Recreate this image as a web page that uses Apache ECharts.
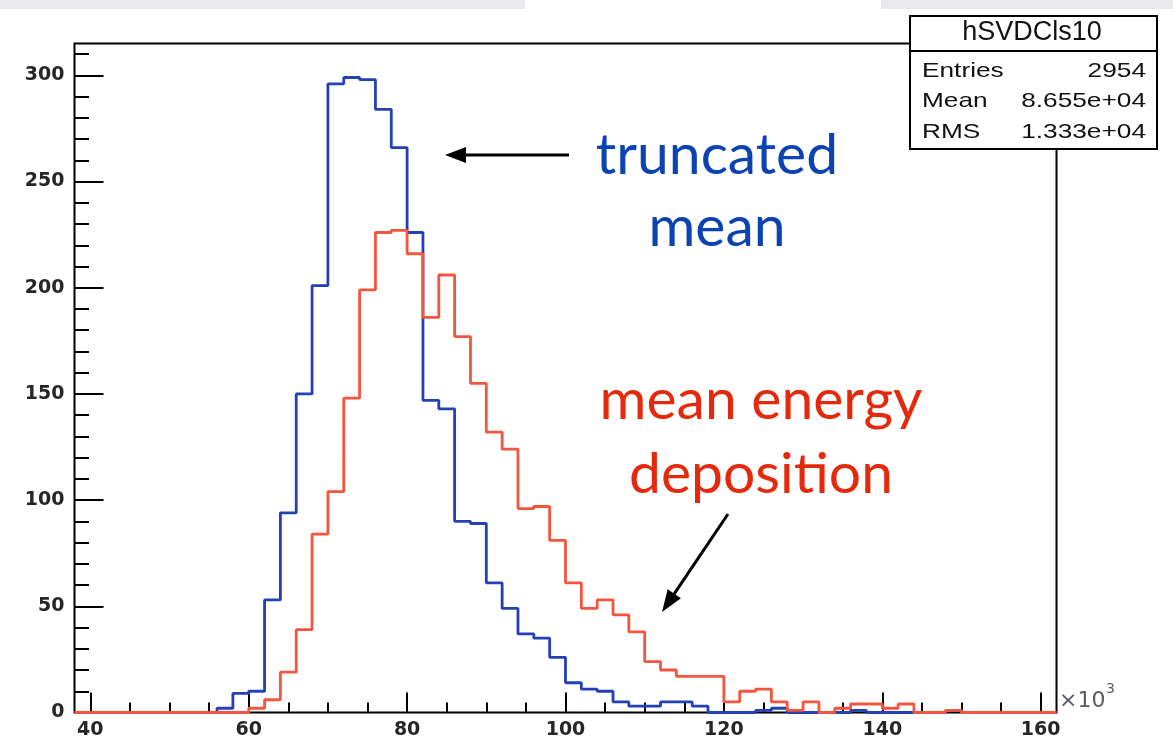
<!DOCTYPE html>
<html><head><meta charset="utf-8">
<script src="https://cdn.jsdelivr.net/npm/echarts@6/dist/echarts.min.js"></script>
<style>html,body{margin:0;padding:0;background:#fff}#c{width:1173px;height:740px}</style>
</head><body><div id="c"></div>
<script>
// ---- data (x in units of 10^3, bins of width 2 starting at 38) ----
const binLow = 38;
const binWidth = 2;
const truncatedMean = [
  0,0,0,0,0,0,0,0,0,           // 38..54
  2,9,10,53,94,150,201,296,299,298,284,266,226,147,143,90,89,61,49,37,35,26,14,11,10,5,3,3,5,5,3, // 56..116
  0,0,0,1,2,0,0,0,0,1,0,0,0,0,0,1,0,0,0,0,0,0 // 118..160
];
const meanEnergyDeposition = [
  0,0,0,0,0,0,0,0,0,0,0,         // 38..58
  2,6,19,39,84,104,148,199,226,227,216,186,206,177,155,132,124,96,97,81,61,49,53,46,38,24,20,17,17,17, // 60..118
  5,10,11,5,1,5,0,2,4,4,2,4,0,0,1,0,0,0,0,0,0 // 120..160
];
const xTickLabels = [40,60,80,100,120,140,160];
const yTickLabels = [0,50,100,150,200,250,300];
const statsTitle = 'hSVDCls10';
const statsNames = ['Entries','Mean','RMS'];
const statsValues = ['2954','8.655e+04','1.333e+04'];

// ---- layout ----
const W = 1173, H = 740;
const G = {left: 74.5, right: 116.5, top: 43.5, bottom: 27.5};
const X0 = 38, X1 = 162, YMAX = 315;
const ux = (W - G.left - G.right) / (X1 - X0);
const uy = (H - G.top - G.bottom) / YMAX;

function steps(vals) {
  const d = vals.map((v, i) => [binLow + i * binWidth, v]);
  d.push([binLow + vals.length * binWidth, vals[vals.length - 1]]);
  return d;
}

const hidden = (gi) => ({gridIndex: gi, type: 'value', show: false, min: 0, max: 1});
const labelFont = {fontFamily: 'DejaVu Sans', fontWeight: 'bold', fontSize: 19, color: '#262626'};

const chart = echarts.init(document.getElementById('c'), null, {renderer: 'canvas'});

function arrow(x1, y1, x2, y2, len, half) {
  const dx = x2 - x1, dy = y2 - y1, L = Math.hypot(dx, dy);
  const ux_ = dx / L, uy_ = dy / L;
  const bx = x2 - ux_ * len, by = y2 - uy_ * len;
  const px = -uy_ * half, py = ux_ * half;
  return [
    {type: 'line', z: 50, shape: {x1: x1, y1: y1, x2: bx + ux_ * 2, y2: by + uy_ * 2}, style: {stroke: '#000', lineWidth: 3}},
    {type: 'polygon', z: 50, shape: {points: [[x2, y2], [bx + px, by + py], [bx - px, by - py]]}, style: {fill: '#000'}}
  ];
}

const annFont = 'Lato';
const gfx = [
  {type: 'rect', z: 1, shape: {x: 0, y: 0, width: 525, height: 9}, style: {fill: '#e8e8ed'}},
  {type: 'rect', z: 1, shape: {x: 881, y: 0, width: 292, height: 9}, style: {fill: '#e8e8ed'}},
  // stats box
  {type: 'rect', z: 100, shape: {x: 910, y: 16, width: 247, height: 133}, style: {fill: '#fff', stroke: '#000', lineWidth: 2}},
  {type: 'line', z: 101, shape: {x1: 910, y1: 51, x2: 1157, y2: 51}, style: {stroke: '#000', lineWidth: 2}},
  {type: 'text', z: 102, x: 1032, y: 33, style: {text: statsTitle, font: '27px "Liberation Sans"', fill: '#111', align: 'center', verticalAlign: 'middle'}},
  // x10^3
  {type: 'text', z: 102, x: 1059, y: 701, style: {text: '×10', font: '22px "DejaVu Sans"', fill: '#5b5b66', align: 'left', verticalAlign: 'middle'}},
  {type: 'text', z: 102, x: 1106, y: 689, style: {text: '3', font: '14px "DejaVu Sans"', fill: '#5b5b66', align: 'left', verticalAlign: 'middle'}},
  // annotations
  {type: 'text', z: 60, x: 717, y: 173 - 17, style: {text: 'truncated', font: '57px ' + annFont, fill: '#0c43b2', align: 'center', verticalAlign: 'middle'}},
  {type: 'text', z: 60, x: 717, y: 245 - 17, style: {text: 'mean', font: '57px ' + annFont, fill: '#0c43b2', align: 'center', verticalAlign: 'middle'}},
  {type: 'text', z: 60, x: 761, y: 418 - 17, style: {text: 'mean energy', font: '57px ' + annFont, fill: '#e4290d', align: 'center', verticalAlign: 'middle'}},
  {type: 'text', z: 60, x: 761, y: 492 - 17, style: {text: 'deposition', font: '57px ' + annFont, fill: '#e4290d', align: 'center', verticalAlign: 'middle'}}
].concat(arrow(569, 155, 445, 155, 21, 8)).concat(arrow(728, 514, 662, 612, 22, 8));

statsNames.forEach((n, i) => {
  const y = 71 + i * 30.5;
  gfx.push({type: 'text', z: 102, x: 922, y: y, scaleX: 1.25, style: {text: n, font: '21px "Liberation Sans"', fill: '#111', align: 'left', verticalAlign: 'middle'}});
  gfx.push({type: 'text', z: 102, x: 1146, y: y, scaleX: 1.25, style: {text: statsValues[i], font: '21px "Liberation Sans"', fill: '#111', align: 'right', verticalAlign: 'middle'}});
});

const option = {
  animation: false,
  backgroundColor: '#fff',
  grid: [
    {left: G.left, right: G.right, top: G.top, bottom: G.bottom, show: true, borderColor: '#000', borderWidth: 2, backgroundColor: 'transparent', containLabel: false},
    {left: G.left + (xTickLabels[0] - X0) * ux, right: G.right + (X1 - xTickLabels[xTickLabels.length - 1]) * ux, top: G.top, bottom: G.bottom, show: false},
    {left: G.left, right: G.right, top: G.top + (YMAX - yTickLabels[yTickLabels.length - 1]) * uy, bottom: G.bottom, show: false},
    {left: G.left, right: G.right, top: G.top + (YMAX - 310) * uy, bottom: G.bottom, show: false}
  ],
  xAxis: [
    {gridIndex: 0, type: 'value', min: X0, max: X1, show: false},
    {gridIndex: 1, type: 'value', min: xTickLabels[0], max: xTickLabels[xTickLabels.length - 1], interval: 20,
      axisLine: {show: false}, splitLine: {show: false},
      axisTick: {show: true, inside: true, length: 20, lineStyle: {color: '#000', width: 2}},
      minorTick: {show: true, splitNumber: 4, length: 10, lineStyle: {color: '#000', width: 2}},
      axisLabel: Object.assign({margin: 8}, labelFont)},
    hidden(2), hidden(3)
  ],
  yAxis: [
    {gridIndex: 0, type: 'value', min: 0, max: YMAX, show: false},
    hidden(1),
    {gridIndex: 2, type: 'value', min: 0, max: yTickLabels[yTickLabels.length - 1], interval: 50,
      axisLine: {show: false}, splitLine: {show: false},
      axisTick: {show: true, inside: true, length: 29, lineStyle: {color: '#000', width: 2}},
      axisLabel: Object.assign({margin: 10}, labelFont)},
    {gridIndex: 3, type: 'value', min: 0, max: 310, interval: 10,
      axisLine: {show: false}, splitLine: {show: false}, axisLabel: {show: false},
      axisTick: {show: true, inside: true, length: 14.5, lineStyle: {color: '#000', width: 2}}}
  ],
  series: [
    {name: 'truncated mean', type: 'line', xAxisIndex: 0, yAxisIndex: 0, step: 'end', symbol: 'none',
      data: steps(truncatedMean), lineStyle: {color: '#2440b6', width: 2.8}, z: 3},
    {name: 'mean energy deposition', type: 'line', xAxisIndex: 0, yAxisIndex: 0, step: 'end', symbol: 'none',
      data: steps(meanEnergyDeposition), lineStyle: {color: '#f4553f', width: 2.8}, z: 4}
  ],
  graphic: gfx
};
chart.setOption(option);
</script>
</body></html>
